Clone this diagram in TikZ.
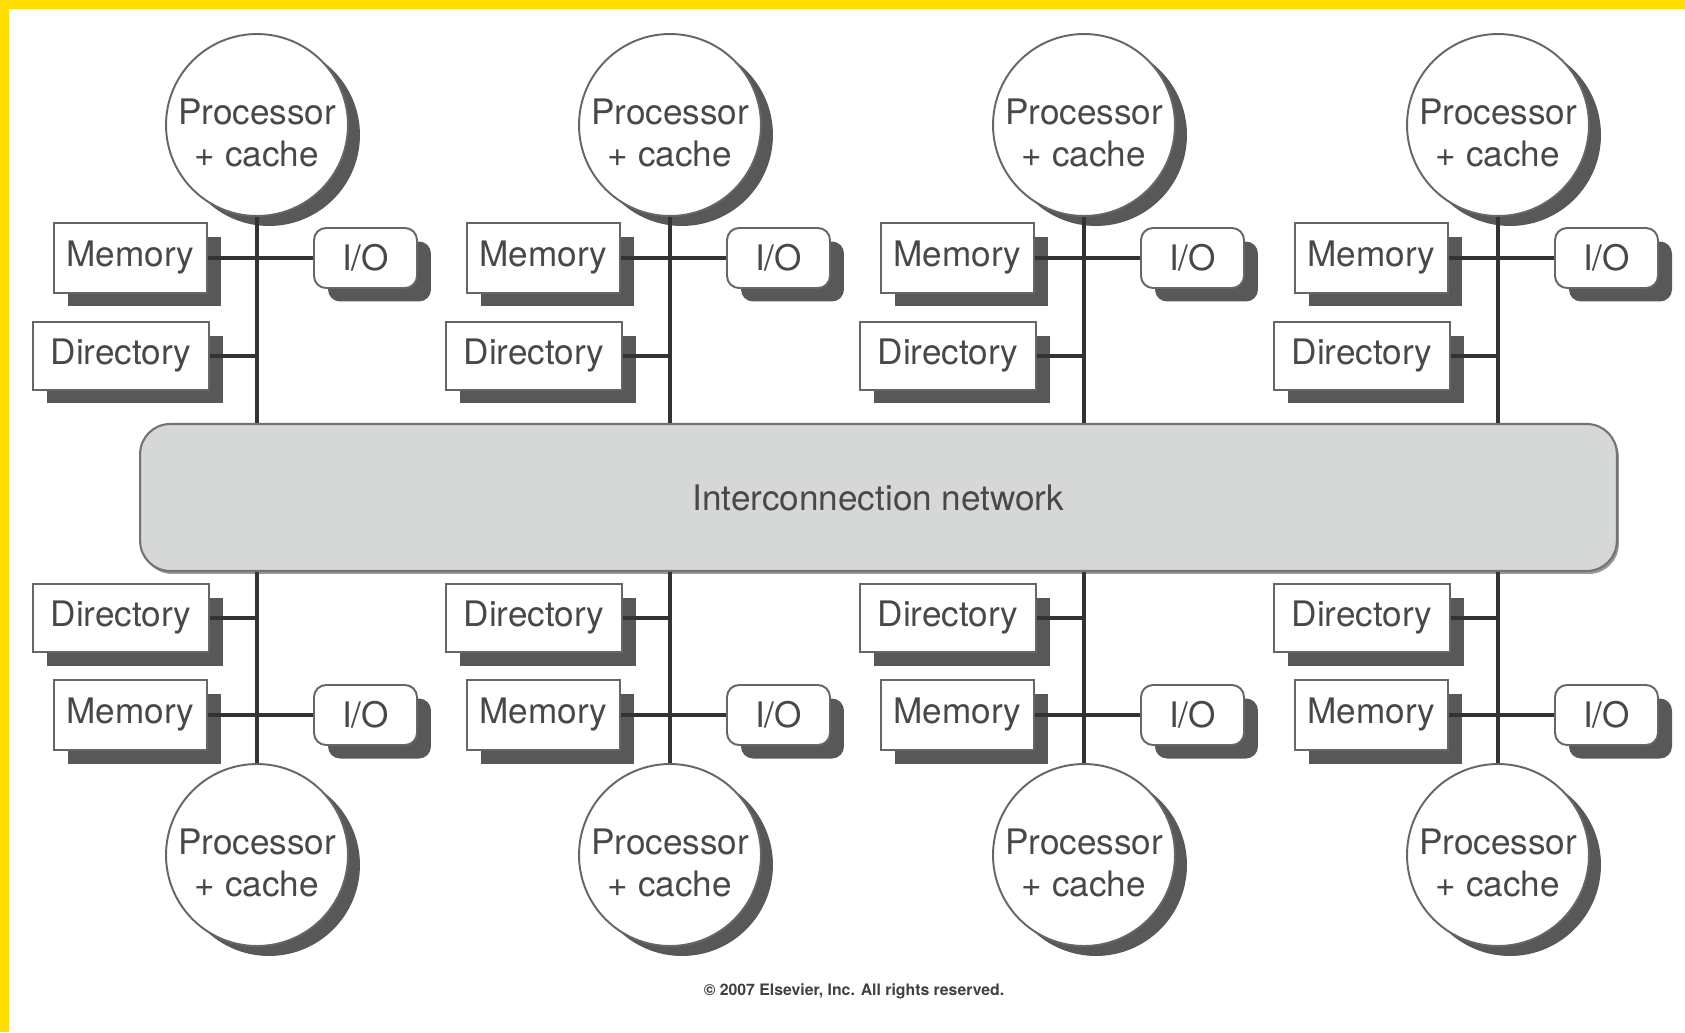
\documentclass[tikz,border=0pt]{standalone}
\usepackage{fontspec}
\setmainfont{TeX Gyre Heros}
\usetikzlibrary{calc,positioning,shadows}

\definecolor{frameyellow}{RGB}{255,221,0}
\definecolor{labelgray}{RGB}{72,72,72}
\definecolor{shadowgray}{RGB}{88,88,88}
\definecolor{netgray}{RGB}{214,216,216}

\newcommand\cpulabel{\rule{0pt}{24pt}Processor\\+ cache}

\tikzset{
  cpu/.style={circle, draw=black!60, line width=1.1pt, fill=white,
    minimum size=3.64cm, inner sep=0pt, align=center, text=labelgray,
    font=\fontsize{20}{24}\selectfont,
    drop shadow={shadow xshift=0.24cm, shadow yshift=-0.2cm, fill=shadowgray, opacity=1}},
  unitbox/.style={draw=black!60, line width=1.1pt, fill=white, inner sep=0pt,
    text=labelgray, font=\fontsize{20}{24}\selectfont, minimum height=1.4cm,
    drop shadow={shadow xshift=0.28cm, shadow yshift=-0.27cm, fill=shadowgray, opacity=1}},
  membox/.style={unitbox, minimum width=3.06cm},
  dirbox/.style={unitbox, minimum width=3.52cm, minimum height=1.36cm},
  iobox/.style={unitbox, minimum width=2.06cm, minimum height=1.2cm, rounded corners=0.24cm},
  network/.style={draw=black!55, line width=1.2pt, fill=netgray, rounded corners=0.6cm,
    minimum width=29.54cm, minimum height=2.94cm, text=labelgray,
    font=\fontsize{20}{24}\selectfont,
    drop shadow={shadow xshift=0.04cm, shadow yshift=-0.06cm, fill=black!40, opacity=1}},
  bus/.style={line width=2.4pt, draw=black!80},
}

\begin{document}
\begin{tikzpicture}[x=0.02cm, y=-0.02cm]

  \fill[white] (0,0) rectangle (1685,1032);
  \useasboundingbox (0,0) rectangle (1685,1032);
  \fill[frameyellow] (0,0) rectangle (1685,9);
  \fill[frameyellow] (0,0) rectangle (9,1032);

  \node[network] (net) at (878.5,497.5) {Interconnection network};

  \foreach \cx [count=\i] in {257,670,1084,1498} {
    % node above the network
    \node[cpu] (pt\i) at (\cx,125) {\cpulabel};
    \node[membox] (mt\i) at ({\cx-126.5},258) {Memory};
    \node[iobox] (it\i) at ({\cx+108.5},258) {I/O};
    \node[dirbox] (dt\i) at ({\cx-136},356) {Directory};
    \draw[bus] (pt\i.south) -- (pt\i.south |- net.north);
    \draw[bus] (mt\i.east) -- (it\i.west);
    \draw[bus] (dt\i.east) -- (dt\i.east -| pt\i.south);

    % node below the network
    \node[dirbox] (db\i) at ({\cx-136},618) {Directory};
    \node[membox] (mb\i) at ({\cx-126.5},715) {Memory};
    \node[iobox] (ib\i) at ({\cx+108.5},715) {I/O};
    \node[cpu] (pb\i) at (\cx,855) {\cpulabel};
    \draw[bus] (pb\i.north) -- (pb\i.north |- net.south);
    \draw[bus] (mb\i.east) -- (ib\i.west);
    \draw[bus] (db\i.east) -- (db\i.east -| pb\i.north);
  }

  \node[font=\fontsize{9}{10}\selectfont\bfseries, text=black!75] (copy) at (854,991)
    {\textcopyright\ 2007 Elsevier, Inc. All rights reserved.};

\end{tikzpicture}
\end{document}
